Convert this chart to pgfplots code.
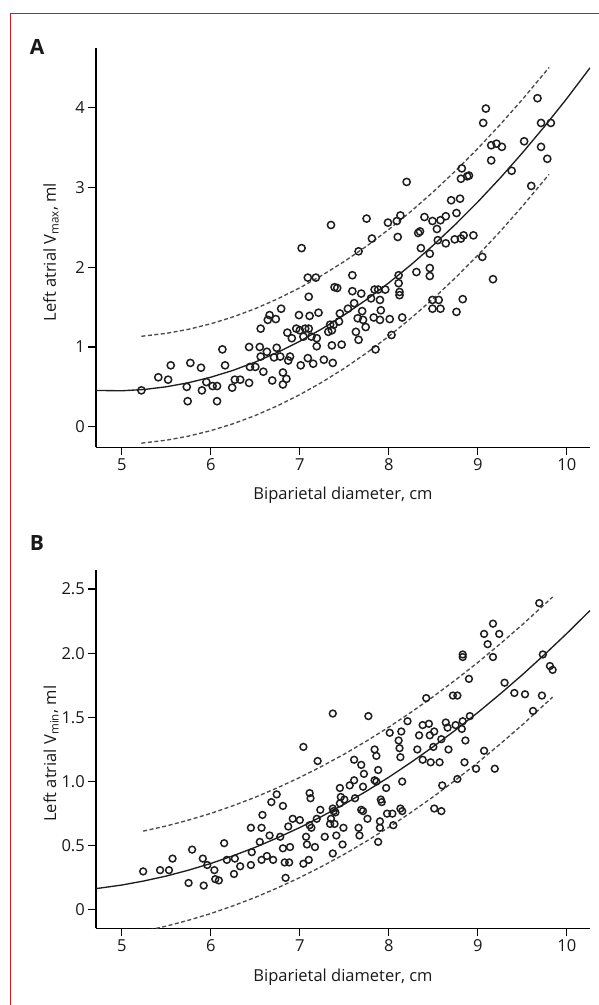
\documentclass[border=0pt]{standalone}
\usepackage{pgfplots}
\pgfplotsset{compat=1.18}
\usepackage{fontspec}
\setmainfont{Open Sans}
\definecolor{frame}{RGB}{190,30,45}
\definecolor{pt}{RGB}{30,30,30}
\definecolor{fit}{RGB}{30,30,30}
\definecolor{band}{RGB}{75,75,75}
\pgfplotsset{
  common/.style={
    scale only axis, anchor=south west,
    axis lines=left, axis line style={-, line width=1.2pt, black},
    tick align=outside, major tick length=7.7pt,
    tick style={line width=1.1pt, black},
    xmin=4.71, xmax=10.26, xtick={5,6,7,8,9,10},
    /pgf/number format/assume math mode=true,
    tick label style={font=\fontsize{16.5}{18}\selectfont, text=black!90},
    label style={font=\fontsize{16.5}{18}\selectfont, text=black!90},
    xlabel={Biparietal diameter, cm},
    xlabel style={at={(axis description cs:0.5,0)}, anchor=base, yshift=-52.7pt},
  },
  fitline/.style={line width=1.35pt, fit, no marks},
  bandline/.style={line width=1.35pt, band, dash pattern=on 4pt off 2.5pt, no marks},
}
\begin{document}
\begin{tikzpicture}
\useasboundingbox (0pt,0pt) rectangle (599pt,1005pt);
\draw[frame, line width=1.3pt] (10.5pt,-5pt) -- (10.5pt,991.7pt) -- (610pt,991.7pt);
\node[font=\fontsize{21}{21}\selectfont\bfseries, text=black!90] at (37pt,958pt) {A};
\node[font=\fontsize{21}{21}\selectfont\bfseries, text=black!90] at (37pt,462pt) {B};

% ---------------- Panel A ----------------
\begin{axis}[common, at={(96pt,557.7pt)}, width=494pt, height=399.3pt,
  ymin=-0.258, ymax=4.75, ytick={0,1,2,3,4},
  ylabel={Left atrial V\textsubscript{max}, ml},
  ylabel style={at={(axis description cs:-0.0911,0.4887)}, anchor=center, rotate=0}]
\addplot[only marks, mark=o, mark size=3.6pt, mark options={line width=1.5pt, draw=pt}] table {
x y
5.22 0.456
5.41 0.62
5.52 0.59
5.55 0.77
5.73 0.50
5.74 0.32
5.77 0.80
5.89 0.74
5.90 0.456
5.95 0.56
6.02 0.51
6.07 0.51
6.07 0.32
6.13 0.97
6.16 0.77
6.24 0.49
6.27 0.59
6.33 0.59
6.43 0.55
6.43 1.00
6.44 0.75
6.50 0.75
6.55 1.00
6.56 1.23
6.56 0.88
6.59 0.69
6.63 0.94
6.64 1.34
6.66 1.40
6.69 0.58
6.71 0.87
6.73 1.35
6.74 0.99
6.78 0.88
6.79 1.48
6.81 0.68
6.81 0.53
6.85 0.60
6.86 1.18
6.87 0.83
6.89 0.88
6.91 1.11
6.96 1.23
6.99 1.40
7.00 1.21
7.01 0.77
7.02 2.24
7.04 1.13
7.06 1.23
7.09 1.87
7.09 0.86
7.10 1.63
7.10 1.23
7.11 1.39
7.13 1.13
7.15 0.79
7.18 1.87
7.19 1.11
7.19 1.01
7.21 1.43
7.27 0.84
7.32 1.19
7.37 0.80
7.36 1.02
7.47 1.03
7.36 1.21
7.38 1.28
7.34 1.28
7.44 1.32
7.45 1.42
7.39 1.75
7.42 1.74
7.59 1.90
7.59 1.70
7.69 1.67
7.63 1.19
7.66 1.09
7.61 1.55
7.54 1.48
7.70 1.45
7.65 1.36
7.71 1.34
7.74 1.25
7.80 1.61
7.81 2.36
7.66 2.20
7.84 1.72
7.88 1.72
7.90 1.59
7.91 1.46
7.96 1.72
7.83 1.37
7.90 1.34
8.01 1.35
7.85 0.97
8.03 1.15
8.11 1.90
8.11 1.80
8.12 1.69
8.12 1.65
8.15 1.37
8.10 2.38
8.31 1.94
8.36 2.24
8.46 1.99
8.46 1.89
8.33 2.43
8.46 2.17
8.49 1.59
8.49 1.48
8.58 1.48
8.56 1.59
8.55 2.34
8.64 2.30
8.76 1.44
8.83 1.60
8.74 2.35
8.81 2.36
8.84 2.40
8.95 2.40
9.05 2.13
9.17 1.85
7.35 2.53
7.75 2.61
7.99 2.56
8.09 2.58
8.13 2.65
8.20 3.07
8.40 2.63
8.49 2.58
8.58 2.59
8.64 2.64
8.54 2.48
8.35 2.45
8.76 2.68
8.70 2.84
8.80 2.86
8.81 3.11
8.82 3.24
8.90 3.15
8.88 3.14
9.06 3.81
9.09 3.99
9.15 3.53
9.21 3.55
9.27 3.51
9.15 3.34
9.38 3.21
9.52 3.58
9.60 3.02
9.67 4.12
9.71 3.81
9.82 3.81
9.71 3.51
9.78 3.36
};
\addplot[fitline] coordinates {
(4.71,0.455) (5.0,0.451) (5.25,0.467) (5.5,0.501) (5.75,0.552) (6.0,0.621)
(6.25,0.707) (6.5,0.811) (6.75,0.933) (7.0,1.072) (7.25,1.229) (7.5,1.403)
(7.75,1.595) (8.0,1.805) (8.25,2.032) (8.5,2.277) (8.75,2.540) (9.0,2.820)
(9.25,3.118) (9.5,3.434) (9.75,3.767) (10.0,4.117) (10.26,4.501)};
\addplot[bandline] coordinates {
(5.22,1.134) (5.5,1.171) (5.75,1.222) (6.0,1.291) (6.25,1.377) (6.5,1.481)
(6.75,1.603) (7.0,1.742) (7.25,1.899) (7.5,2.073) (7.75,2.265) (8.0,2.475)
(8.25,2.702) (8.5,2.947) (8.75,3.210) (9.0,3.490) (9.25,3.788) (9.5,4.104) (9.8,4.505)};
\addplot[bandline] coordinates {
(5.22,-0.206) (5.5,-0.169) (5.75,-0.118) (6.0,-0.049) (6.25,0.037) (6.5,0.141)
(6.75,0.263) (7.0,0.402) (7.25,0.559) (7.5,0.733) (7.75,0.925) (8.0,1.135)
(8.25,1.362) (8.5,1.607) (8.75,1.870) (9.0,2.150) (9.25,2.448) (9.5,2.764) (9.8,3.165)};
\end{axis}

% ---------------- Panel B ----------------
\begin{axis}[common, at={(96pt,76.7pt)}, width=494pt, height=358.3pt,
  ymin=-0.143, ymax=2.648, ytick={0,0.5,1,1.5,2,2.5},
  yticklabels={0,0.5,1.0,1.5,2.0,2.5},
  ylabel={Left atrial V\textsubscript{min}, ml},
  ylabel style={at={(axis description cs:-0.0911,0.4875)}, anchor=center, rotate=0}]
\addplot[only marks, mark=o, mark size=3.4pt, mark options={line width=1.5pt, draw=pt}] table {
x y
5.24 0.30
5.43 0.31
5.53 0.31
5.57 0.40
5.75 0.21
5.79 0.47
5.92 0.19
5.91 0.40
5.96 0.35
6.04 0.31
6.05 0.24
6.09 0.23
6.15 0.52
6.18 0.39
6.26 0.28
6.27 0.40
6.33 0.34
6.45 0.64
6.45 0.35
6.46 0.45
6.57 0.64
6.58 0.74
6.55 0.53
6.57 0.39
6.63 0.42
6.66 0.58
6.68 0.84
6.70 0.39
6.74 0.90
6.81 0.81
6.78 0.57
6.83 0.37
6.84 0.25
6.88 0.37
6.87 0.65
6.89 0.49
6.81 0.48
6.92 0.71
7.00 0.70
7.04 0.36
7.07 0.57
7.08 0.51
7.10 0.39
7.11 0.91
7.12 0.87
7.13 0.64
7.17 0.49
7.20 1.16
7.04 1.27
7.19 0.71
7.23 0.78
7.28 0.57
7.11 0.66
7.37 0.44
7.48 0.51
7.49 0.64
7.38 0.77
7.37 0.79
7.40 0.76
7.35 0.71
7.39 0.67
7.34 0.67
7.41 0.58
7.45 0.95
7.46 0.88
7.45 0.83
7.50 0.86
7.56 0.97
7.61 1.01
7.62 0.87
7.66 0.64
7.69 0.78
7.71 0.77
7.76 0.71
7.67 0.58
7.72 1.06
7.71 0.96
7.37 1.53
7.77 1.51
7.61 1.17
7.69 1.13
7.84 1.01
7.86 1.00
7.88 1.09
7.84 1.25
7.86 1.20
7.90 0.69
7.91 0.86
7.92 0.84
7.97 0.95
7.98 0.75
7.90 0.64
8.05 0.66
8.04 0.75
8.13 0.79
8.15 0.77
7.88 0.53
8.15 1.00
8.01 1.38
8.11 1.32
8.12 1.26
8.13 1.19
8.14 1.39
8.21 1.47
8.34 1.36
8.38 1.44
8.45 1.45
8.46 1.36
8.51 1.39
8.50 1.27
8.32 1.25
8.38 1.17
8.47 1.15
8.57 1.15
8.59 1.33
8.67 1.25
8.64 1.46
8.66 1.42
8.75 1.44
8.82 1.41
8.83 1.47
8.91 1.51
8.86 1.32
8.85 1.15
8.60 0.97
8.51 0.79
8.59 0.77
8.77 1.02
8.98 1.10
9.07 1.24
9.19 1.10
9.62 1.55
9.69 2.39
9.17 2.23
9.07 2.15
9.24 2.15
9.11 2.07
9.17 1.97
8.83 1.99
8.83 1.97
8.90 1.80
8.42 1.65
8.72 1.67
8.77 1.67
9.30 1.77
9.41 1.69
9.53 1.68
9.73 1.99
9.81 1.90
9.84 1.87
9.72 1.67
};
\addplot[fitline] coordinates {
(4.71,0.166) (5.0,0.194) (5.25,0.226) (5.5,0.264) (5.75,0.310) (6.0,0.362)
(6.25,0.422) (6.5,0.488) (6.75,0.562) (7.0,0.642) (7.25,0.730) (7.5,0.824)
(7.75,0.926) (8.0,1.034) (8.25,1.150) (8.5,1.272) (8.75,1.402) (9.0,1.538)
(9.25,1.682) (9.5,1.832) (9.75,1.990) (10.0,2.154) (10.26,2.332)};
\addplot[bandline] coordinates {
(5.24,0.614) (5.5,0.654) (5.75,0.700) (6.0,0.752) (6.25,0.812) (6.5,0.878)
(6.75,0.952) (7.0,1.032) (7.25,1.120) (7.5,1.214) (7.75,1.316) (8.0,1.424)
(8.25,1.540) (8.5,1.662) (8.75,1.792) (9.0,1.928) (9.25,2.072) (9.5,2.222) (9.84,2.438)};
\addplot[bandline] coordinates {
(5.24,-0.166) (5.5,-0.126) (5.75,-0.080) (6.0,-0.028) (6.25,0.032) (6.5,0.098)
(6.75,0.172) (7.0,0.252) (7.25,0.340) (7.5,0.434) (7.75,0.536) (8.0,0.644)
(8.25,0.760) (8.5,0.882) (8.75,1.012) (9.0,1.148) (9.25,1.292) (9.5,1.442) (9.84,1.658)};
\end{axis}
\end{tikzpicture}
\end{document}
